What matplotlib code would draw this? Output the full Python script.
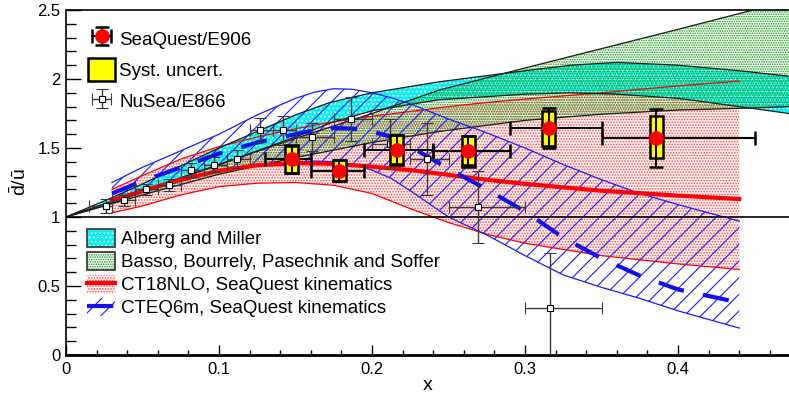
"""d-bar / u-bar ratio: SeaQuest/E906 vs NuSea/E866 and model bands.

    python3 plot.py  ->  out.png
"""

import matplotlib

matplotlib.use("Agg")
import matplotlib.pyplot as plt
import numpy as np
from matplotlib.legend_handler import HandlerTuple
from matplotlib.patches import Rectangle
from matplotlib.ticker import FuncFormatter, MultipleLocator

plt.rcParams["font.family"] = ["Liberation Sans", "DejaVu Sans"]
plt.rcParams["mathtext.fontset"] = "custom"
plt.rcParams["mathtext.rm"] = "Liberation Sans"
plt.rcParams["mathtext.it"] = "Liberation Sans"
plt.rcParams["hatch.linewidth"] = 0.8
plt.rcParams["lines.scale_dashes"] = False

# --- SeaQuest/E906 ---
sq_x = np.array([0.1475, 0.1786, 0.2161, 0.2630, 0.3155, 0.3856])
sq_y = np.array([1.418, 1.336, 1.486, 1.481, 1.643, 1.575])
sq_stat = np.array([0.10, 0.075, 0.105, 0.105, 0.145, 0.21])
sq_sys_lo = np.array([1.320, 1.263, 1.377, 1.365, 1.517, 1.425])
sq_sys_hi = np.array([1.520, 1.413, 1.594, 1.587, 1.768, 1.732])
sq_bin_lo = np.array([0.130, 0.160, 0.195, 0.240, 0.290, 0.350])
sq_bin_hi = np.array([0.160, 0.195, 0.240, 0.290, 0.350, 0.450])

# --- NuSea/E866 ---
e866_x = np.array([0.026, 0.038, 0.052, 0.067, 0.082, 0.097, 0.112, 0.127,
                   0.142, 0.161, 0.186, 0.212, 0.236, 0.269, 0.316])
e866_y = np.array([1.08, 1.12, 1.20, 1.23, 1.34, 1.38, 1.42, 1.63,
                   1.63, 1.58, 1.71, 1.53, 1.42, 1.075, 0.34])
e866_err = np.array([0.05, 0.04, 0.04, 0.045, 0.05, 0.055, 0.065, 0.09,
                     0.105, 0.10, 0.16, 0.18, 0.26, 0.26, 0.40])
e866_bin_lo = np.array([0.015, 0.030, 0.045, 0.060, 0.075, 0.090, 0.105, 0.120,
                        0.135, 0.150, 0.175, 0.200, 0.225, 0.250, 0.300])
e866_bin_hi = np.array([0.030, 0.045, 0.060, 0.075, 0.090, 0.105, 0.120, 0.135,
                        0.150, 0.175, 0.200, 0.225, 0.250, 0.300, 0.350])

# --- Alberg and Miller band ---
am_x = [0.0, 0.03, 0.05, 0.1, 0.15, 0.1725, 0.2, 0.244, 0.3, 0.33, 0.36, 0.4, 0.44, 0.4725]
am_hi = [1.0, 1.14, 1.24, 1.50, 1.74, 1.83, 1.90, 1.98, 2.06, 2.10, 2.12, 2.10, 2.06, 2.02]
am_lo = [1.0, 1.10, 1.18, 1.38, 1.58, 1.68, 1.77, 1.85, 1.89, 1.90, 1.89, 1.86, 1.80, 1.75]

# --- Basso, Bourrely, Pasechnik and Soffer band ---
bb_x = [0.0, 0.05, 0.1, 0.15, 0.2, 0.244, 0.3, 0.35, 0.4, 0.449, 0.4725]
bb_hi = [1.0, 1.19, 1.38, 1.57, 1.75, 1.92, 2.08, 2.22, 2.36, 2.50, 2.57]
bb_lo = [1.0, 1.16, 1.31, 1.43, 1.54, 1.62, 1.70, 1.745, 1.775, 1.79, 1.80]

# --- CT18NLO, SeaQuest kinematics ---
ct_x = [0.03, 0.05, 0.075, 0.1, 0.125, 0.15, 0.175, 0.2, 0.225, 0.25,
        0.275, 0.3, 0.35, 0.4, 0.44]
ct_mid = [1.12, 1.19, 1.27, 1.335, 1.375, 1.39, 1.385, 1.365, 1.34, 1.305,
          1.27, 1.24, 1.19, 1.155, 1.13]
ct_hi = [1.20, 1.30, 1.42, 1.51, 1.58, 1.64, 1.69, 1.73, 1.765, 1.80,
         1.83, 1.855, 1.90, 1.95, 1.985]
ct_lo = [1.03, 1.08, 1.16, 1.22, 1.245, 1.25, 1.23, 1.17, 1.06, 0.96,
         0.875, 0.81, 0.72, 0.66, 0.62]

# --- CTEQ6m, SeaQuest kinematics ---
cq_x = [0.03, 0.05, 0.075, 0.1, 0.125, 0.15, 0.1625, 0.175, 0.1875, 0.2, 0.2125,
        0.225, 0.25, 0.275, 0.3, 0.325, 0.35, 0.375, 0.4, 0.44]
cq_mid = [1.17, 1.26, 1.36, 1.46, 1.54, 1.60, 1.63, 1.645, 1.64, 1.62, 1.58,
          1.51, 1.35, 1.20, 1.04, 0.85, 0.70, 0.575, 0.475, 0.38]
cq_hi = [1.25, 1.36, 1.48, 1.60, 1.74, 1.86, 1.905, 1.93, 1.925, 1.90, 1.865,
         1.82, 1.71, 1.61, 1.50, 1.38, 1.27, 1.17, 1.09, 0.97]
cq_lo = [1.11, 1.18, 1.26, 1.33, 1.38, 1.40, 1.405, 1.40, 1.38, 1.34, 1.28,
         1.19, 1.0, 0.87, 0.72, 0.58, 0.49, 0.41, 0.32, 0.195]

FONT = 13.5
SYS_WIDTH = 0.0085


def _fmt(v, _pos):
    return f"{v:g}"


def main():
    fig = plt.figure(figsize=(7.89, 4.01), dpi=100)
    ax = fig.add_axes([66 / 789, 46 / 401, 723 / 789, 345 / 401])

    # model bands (CT18 dots sit underneath the two model bands)
    ct_fill = ax.fill_between(ct_x, ct_lo, ct_hi, facecolor="#fff4f4", edgecolor="#ff5050",
                              hatch="......", linewidth=0, zorder=0.5)
    ax.plot(ct_x, ct_hi, color="red", lw=0.9, zorder=4)
    ax.plot(ct_x, ct_lo, color="red", lw=0.9, zorder=4)
    (ct_line,) = ax.plot(ct_x, ct_mid, color="red", lw=3.0, zorder=5)

    am_fill = ax.fill_between(am_x, am_lo, am_hi, facecolor="#08f0f0", edgecolor="white",
                              hatch="....", linewidth=0, zorder=1)
    ax.plot(am_x, am_hi, color="#1a1a1a", lw=0.9, zorder=4)
    ax.plot(am_x, am_lo, color="#1a1a1a", lw=0.9, zorder=4)

    bb_fill = ax.fill_between(bb_x, bb_lo, bb_hi, facecolor="none", edgecolor="#0c9a0c",
                              hatch=".......", linewidth=0, zorder=2)
    ax.plot(bb_x, bb_hi, color="#1a1a1a", lw=0.9, zorder=4)
    ax.plot(bb_x, bb_lo, color="#1a1a1a", lw=0.9, zorder=4)

    cq_fill = ax.fill_between(cq_x, cq_lo, cq_hi, facecolor="none", edgecolor="#1a1aff",
                              hatch="//", linewidth=0, zorder=3)
    ax.plot(cq_x, cq_hi, color="#1a1aff", lw=0.9, zorder=4)
    ax.plot(cq_x, cq_lo, color="#1a1aff", lw=0.9, zorder=4)
    (cq_line,) = ax.plot(cq_x, cq_mid, color="#1010ee", lw=3.0, dashes=(19, 14), zorder=5)

    ax.axhline(1.0, color="black", lw=1.2, zorder=6)

    # NuSea/E866 points
    e866 = ax.errorbar(e866_x, e866_y, yerr=e866_err,
                       xerr=[e866_x - e866_bin_lo, e866_bin_hi - e866_x],
                       fmt="s", ms=4.5, mfc="white", mec="black", mew=0.8,
                       ecolor="#3a3a3a", elinewidth=1.0, capsize=4, capthick=1.0, zorder=8)

    # SeaQuest/E906 points with systematic boxes
    sys_bars = ax.bar(sq_x, sq_sys_hi - sq_sys_lo, bottom=sq_sys_lo, width=SYS_WIDTH,
                      color="yellow", edgecolor="black", linewidth=1.8, zorder=9)
    sq = ax.errorbar(sq_x, sq_y, yerr=sq_stat, xerr=[sq_x - sq_bin_lo, sq_bin_hi - sq_x],
                     fmt="o", ms=9.5, mfc="red", mec="red", ecolor="black",
                     elinewidth=1.5, capsize=5, capthick=1.8, zorder=10)

    # axes
    ax.set_xlim(0, 0.4725)
    ax.set_ylim(0, 2.5)
    ax.xaxis.set_major_locator(MultipleLocator(0.1))
    ax.xaxis.set_minor_locator(MultipleLocator(0.02))
    ax.yaxis.set_major_locator(MultipleLocator(0.5))
    ax.yaxis.set_minor_locator(MultipleLocator(0.1))
    ax.xaxis.set_major_formatter(FuncFormatter(_fmt))
    ax.yaxis.set_major_formatter(FuncFormatter(_fmt))
    ax.tick_params(which="both", direction="in", top=False, right=False, labelsize=12, width=1.0)
    ax.tick_params(axis="y", which="major", length=11, pad=4)
    ax.tick_params(axis="y", which="minor", length=7)
    ax.tick_params(axis="x", which="major", length=7.5, pad=5)
    ax.tick_params(axis="x", which="minor", length=3.5)
    ax.spines["right"].set_visible(False)
    ax.spines["left"].set_linewidth(1.2)
    ax.spines["top"].set_linewidth(1.2)
    ax.spines["bottom"].set_linewidth(2.0)

    ax.set_xlabel("x", fontsize=14)
    ax.xaxis.set_label_coords(0.5, -0.065)
    ax.set_ylabel(r"$\bar{\mathrm{d}}/\bar{\mathrm{u}}$", fontsize=14)
    ax.yaxis.set_label_coords(-0.05, 0.5)

    # legends
    leg1 = ax.legend([sq, sys_bars, e866], ["SeaQuest/E906", "Syst. uncert.", "NuSea/E866"],
                     loc="upper left", bbox_to_anchor=(0.0207, 0.972), borderaxespad=0,
                     frameon=False, fontsize=FONT, handlelength=1.4, handleheight=1.5,
                     labelspacing=0.45, handletextpad=0.25)
    ax.add_artist(leg1)

    border = Rectangle((0, 0), 1, 1, facecolor="none", edgecolor="#303030", lw=1.2)
    ax.legend([(am_fill, border), (bb_fill, border), (ct_fill, ct_line), (cq_fill, cq_line)],
              ["Alberg and Miller", "Basso, Bourrely, Pasechnik and Soffer",
               "CT18NLO, SeaQuest kinematics", "CTEQ6m, SeaQuest kinematics"],
              handler_map={tuple: HandlerTuple(ndivide=1)},
              loc="upper left", bbox_to_anchor=(0.018, 0.388), borderaxespad=0,
              frameon=False, fontsize=FONT, handlelength=1.5, handleheight=1.1,
              labelspacing=0.2, handletextpad=0.35)

    fig.savefig("out.png", dpi=100)
    plt.close(fig)


if __name__ == "__main__":
    main()
